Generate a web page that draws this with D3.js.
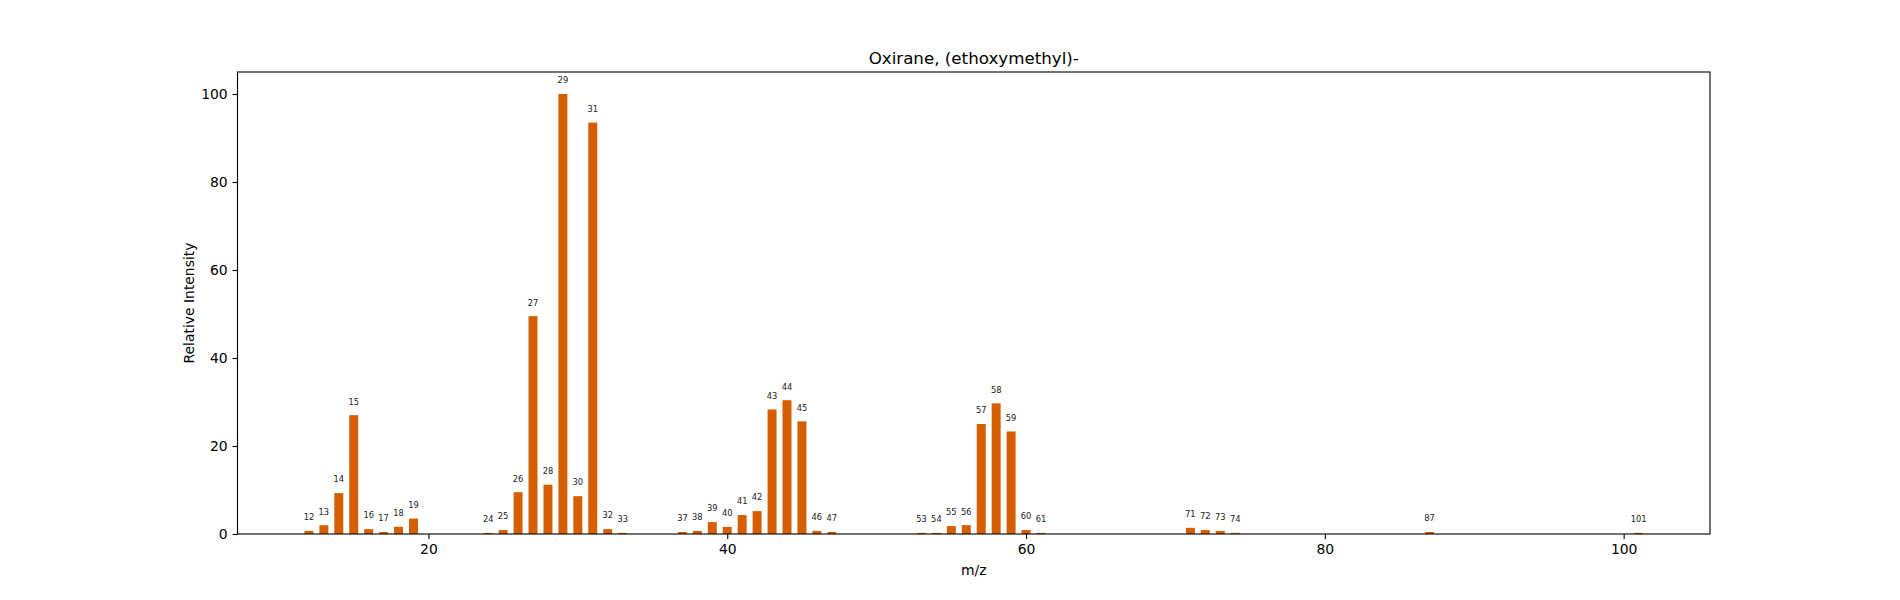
<!DOCTYPE html>
<html>
<head>
<meta charset="utf-8">
<script src="https://cdn.jsdelivr.net/npm/d3@7"></script>
<style>
  html, body { margin: 0; padding: 0; background: #fff; }
  svg text { font-family: "DejaVu Sans", sans-serif; fill: #000; }
  .axis path, .axis line { stroke: #000; stroke-width: 1.1; }
  .axis text { font-size: 13.9px; }
</style>
</head>
<body>
<svg id="chart" width="1900" height="600"></svg>
<script>
// m/z values and relative intensities
var mz = [12, 13, 14, 15, 16, 17, 18, 19, 24, 25, 26, 27, 28, 29, 30, 31, 32, 33,
          37, 38, 39, 40, 41, 42, 43, 44, 45, 46, 47, 53, 54, 55, 56, 57, 58, 59,
          60, 61, 71, 72, 73, 74, 87, 101];
var intensity = [0.7, 2.0, 9.3, 27.0, 1.1, 0.45, 1.65, 3.5, 0.25, 0.9, 9.5, 49.5, 11.2, 100, 8.6, 93.5, 1.1, 0.25,
                 0.45, 0.7, 2.7, 1.6, 4.3, 5.2, 28.3, 30.4, 25.6, 0.7, 0.45, 0.25, 0.25, 1.8, 2.0, 25.0, 29.7, 23.3,
                 0.9, 0.25, 1.4, 0.9, 0.7, 0.25, 0.45, 0.25];
var xTicks = [20, 40, 60, 80, 100];
var yTicks = [0, 20, 40, 60, 80, 100];
var title = 'Oxirane, (ethoxymethyl)-';

var
  margin = {top: 72, right: 190, bottom: 66, left: 237.5},
  W = 1900,
  H = 600,
  width = W - margin.left - margin.right,
  height = H - margin.top - margin.bottom,
  barWidth = 0.6,
  data = mz.map((m, i) => ({mz: m, value: intensity[i]}))
  ;

// matplotlib style 5% padding around the bar extents
var
  lo = d3.min(mz) - barWidth / 2,
  hi = d3.max(mz) + barWidth / 2,
  pad = (hi - lo) * 0.05,
  xScale = d3.scaleLinear().domain([lo - pad, hi + pad]).range([0, width]),
  yScale = d3.scaleLinear().domain([0, 105]).range([height, 0])
  ;

var svg = d3.select('#chart'),
  g = svg.append('g').attr('transform', 'translate(' + margin.left + ',' + margin.top + ')');

g.selectAll('rect.bar')
  .data(data)
  .enter().append('rect')
  .attr('class', 'bar')
  .attr('x', d => xScale(d.mz - barWidth / 2))
  .attr('width', d => xScale(d.mz + barWidth / 2) - xScale(d.mz - barWidth / 2))
  .attr('y', d => yScale(d.value))
  .attr('height', d => height - yScale(d.value))
  .attr('fill', '#d55e00');

g.selectAll('text.peak')
  .data(data)
  .enter().append('text')
  .attr('class', 'peak')
  .attr('x', d => xScale(d.mz))
  .attr('y', d => yScale(d.value) - 10.7)
  .attr('text-anchor', 'middle')
  .style('font-size', '8.3px')
  .style('fill', '#222')
  .text(d => d.mz);

var xAxis = d3.axisBottom(xScale).tickValues(xTicks).tickSize(4.9).tickPadding(4.9),
  yAxis = d3.axisLeft(yScale).tickValues(yTicks).tickSize(4.9).tickPadding(4.9);

g.append('g')
  .attr('class', 'axis axis--x')
  .attr('transform', 'translate(0,' + height + ')')
  .call(xAxis)
  .call(s => s.select('.domain').remove());

g.append('g')
  .attr('class', 'axis axis--y')
  .call(yAxis)
  .call(s => s.select('.domain').remove());

// frame
g.append('rect')
  .attr('width', width)
  .attr('height', height)
  .attr('fill', 'none')
  .attr('stroke', '#000')
  .attr('stroke-width', 1.1);

g.append('text')
  .attr('x', width / 2)
  .attr('y', -8.5)
  .attr('text-anchor', 'middle')
  .style('font-size', '16.7px')
  .text(title);

g.append('text')
  .attr('x', width / 2)
  .attr('y', height + 41)
  .attr('text-anchor', 'middle')
  .style('font-size', '13.9px')
  .text('m/z');

g.append('text')
  .attr('transform', 'translate(' + (-44) + ',' + (height / 2) + ') rotate(-90)')
  .attr('text-anchor', 'middle')
  .style('font-size', '13.9px')
  .text('Relative Intensity');
</script>
</body>
</html>
